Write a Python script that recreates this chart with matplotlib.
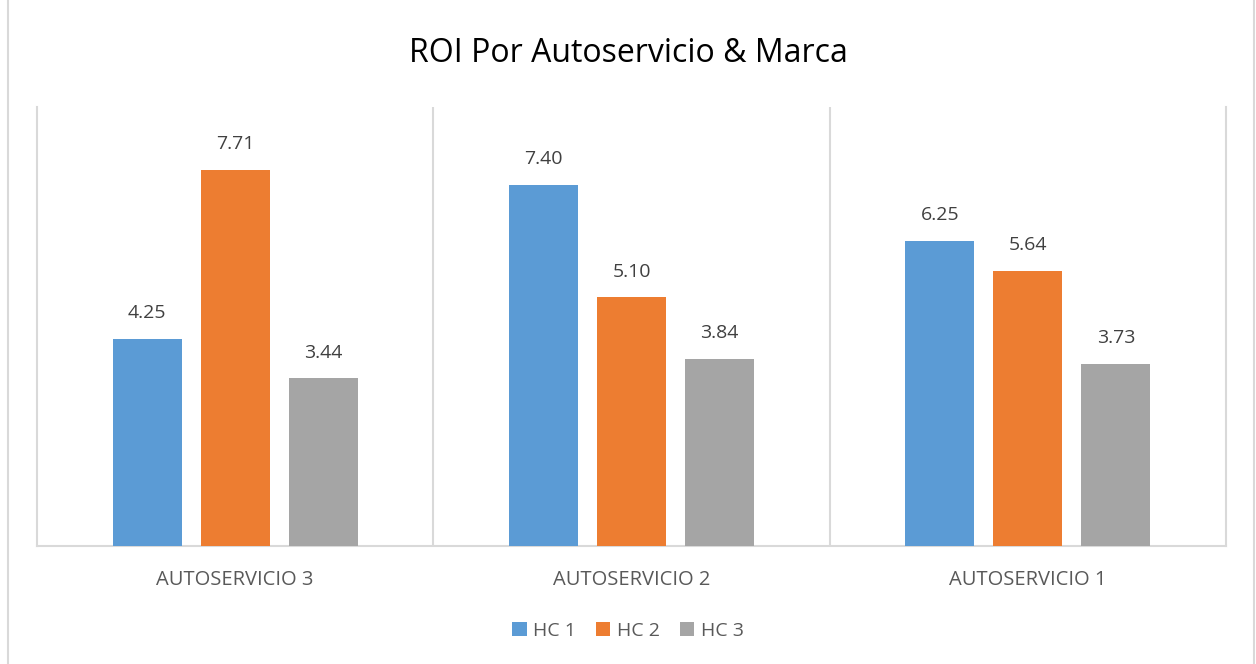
import numpy as np
import matplotlib.pyplot as plt
from matplotlib.patches import Rectangle

# Datos
categorias = ['AUTOSERVICIO 3', 'AUTOSERVICIO 2', 'AUTOSERVICIO 1']
series = ['HC 1', 'HC 2', 'HC 3']
hc1 = [4.25, 7.40, 6.25]
hc2 = [7.71, 5.10, 5.64]
hc3 = [3.44, 3.84, 3.73]
colores = ['#5B9BD5', '#ED7D31', '#A5A5A5']

plt.rcParams['font.family'] = ['Open Sans', 'DejaVu Sans']
texto = '#595959'

fig = plt.figure(figsize=(12.56, 6.64), dpi=100)
ax = fig.add_axes([37 / 1256, 1 - 546 / 664, (1226 - 37) / 1256, (546 - 107) / 664])

x = np.arange(len(categorias))
ancho = 0.174
paso = 0.222
for i, (vals, nombre) in enumerate(zip([hc1, hc2, hc3], series)):
    pos = x + (i - 1) * paso
    barras = ax.bar(pos, vals, width=ancho, color=colores[i], label=nombre, zorder=3)
    for b, v in zip(barras, vals):
        ax.annotate(f'{v:.2f}', (b.get_x() + b.get_width() / 2, v),
                    xytext=(0, 12), textcoords='offset points',
                    ha='center', va='bottom', fontsize=14, color='#404040')

ax.set_xlim(-0.5, len(categorias) - 0.5)
ax.set_ylim(0, 9)
ax.set_yticks([])
ax.set_xticks(x)
ax.set_xticklabels(categorias, fontsize=14.5, color=texto)
ax.tick_params(axis='x', length=0, pad=17)

# separadores entre categorias
for s in np.arange(0.5, len(categorias) - 0.5, 1):
    ax.axvline(s, color='#D9D9D9', linewidth=1.5, zorder=1)

for lado in ['left', 'right', 'bottom']:
    ax.spines[lado].set_color('#D9D9D9')
    ax.spines[lado].set_linewidth(1.5)
ax.spines['top'].set_visible(False)

fig.text(0.5, 1 - 53 / 664, 'ROI Por Autoservicio & Marca', ha='center', va='center',
         fontsize=23, color='#000000')

leg = fig.legend(loc='center', bbox_to_anchor=(0.5, 1 - 631 / 664), ncol=3,
                 frameon=False, fontsize=14, handlelength=0.75, handleheight=0.75,
                 handletextpad=0.35, columnspacing=1.0)
for t in leg.get_texts():
    t.set_color(texto)

# borde exterior
fig.patches.append(Rectangle((8 / 1256, -0.01), (1254 - 8) / 1256, 1.02,
                             transform=fig.transFigure, fill=False,
                             edgecolor='#D9D9D9', linewidth=1.5))

fig.savefig('out.png', dpi=100)
